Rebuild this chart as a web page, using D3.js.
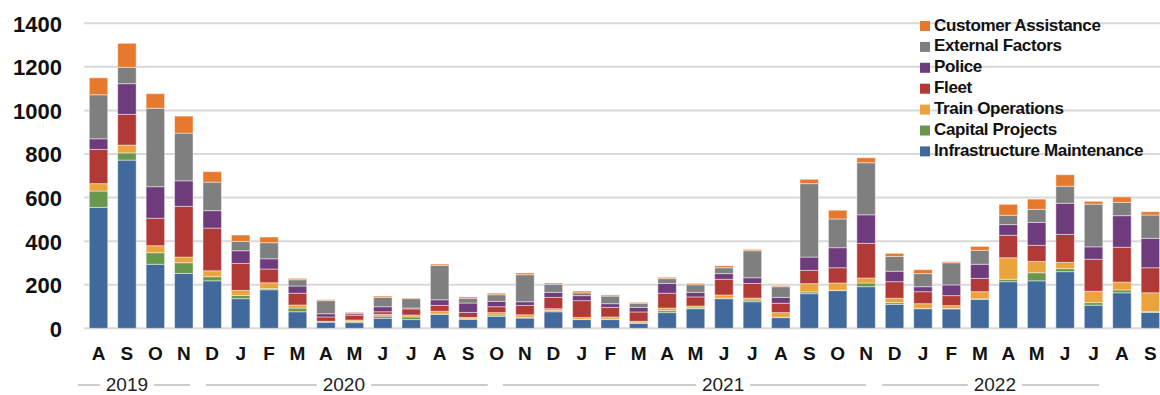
<!DOCTYPE html>
<html>
<head>
<meta charset="utf-8">
<script src="https://cdn.jsdelivr.net/npm/d3@7"></script>
<style>
  html, body { margin: 0; padding: 0; background: #fff; }
  svg { display: block; }
</style>
</head>
<body>
<svg id="chart" width="1160" height="395"></svg>
<script>
// Monthly delay minutes by cause, Aug 2019 – Sep 2022
const months = ["A","S","O","N","D",
  "J","F","M","A","M","J","J","A","S","O","N","D",
  "J","F","M","A","M","J","J","A","S","O","N","D",
  "J","F","M","A","M","J","J","A","S"];

const infrastructureMaintenance = [555,772,294,252,218, 136,177,76,28,26,46,40,64,41,55,47,76, 40,40,23,72,90,136,122,49,159,173,191,110, 90,89,133,214,218,260,106,163,73];
const capitalProjects           = [75,33,53,49,19, 15,5,17,2,5,10,12,2,3,6,3,5, 2,2,2,9,3,2,8,2,8,2,17,8, 2,2,2,11,37,14,12,13,3];
const trainOperations           = [34,36,32,26,27, 23,27,14,2,7,8,9,12,6,11,12,9, 8,10,7,12,9,15,9,21,38,33,23,20, 21,13,33,99,52,29,52,36,87];
const fleet                     = [157,141,126,233,196, 124,63,54,20,22,12,28,27,23,27,43,52, 77,44,43,68,42,72,67,43,61,70,159,76, 55,46,61,103,74,128,147,160,115];
const police                    = [49,141,145,117,80, 58,47,33,15,7,23,4,26,43,25,17,23, 23,17,21,45,21,26,26,27,61,92,131,48, 23,49,65,49,105,143,57,145,135];
const externalFactors           = [202,75,360,219,131, 43,74,29,60,5,43,43,158,22,30,124,37, 13,35,19,22,35,27,124,49,337,132,239,68, 60,102,64,43,60,78,196,61,107];
const customerAssistance        = [78,110,67,78,48, 29,26,6,4,3,6,3,6,6,7,8,6, 8,5,4,6,6,9,6,5,20,40,23,14, 18,5,18,50,47,53,13,25,15];

const seriesNames  = ["Infrastructure Maintenance","Capital Projects","Train Operations","Fleet","Police","External Factors","Customer Assistance"];
const seriesValues = [infrastructureMaintenance, capitalProjects, trainOperations, fleet, police, externalFactors, customerAssistance];
const seriesColors = ["#41699c","#68984b","#eba33e","#b13a36","#6e3b7c","#7f7f7f","#e57a2e"];

const yTicks = [0,200,400,600,800,1000,1200,1400];
const years = ["2019","2020","2021","2022"];

// Year bracket extents, in units of month steps from the start of the band range
const yearSpans = [[-0.22, 3.72], [4.28, 14.19], [14.72, 27.5], [28.07, 35.7]];
const yearTextCenters = [1.5, 9.13, 22.47, 32.03];

const svg = d3.select("#chart");
const plot = { left: 84.3, right: 1164.6, top: 23.3, bottom: 328.3 };

const x = d3.scaleBand()
  .domain(d3.range(months.length))
  .range([plot.left, plot.right])
  .paddingInner(0.35)
  .paddingOuter(0.175);

const y = d3.scaleLinear().domain([0, 1400]).range([plot.bottom, plot.top]);

// Gridlines
svg.append("g")
  .selectAll("line")
  .data(yTicks)
  .join("line")
  .attr("x1", plot.left)
  .attr("x2", 1160)
  .attr("y1", d => y(d))
  .attr("y2", d => y(d))
  .attr("stroke", "#d9d9d9")
  .attr("stroke-width", 2);

// Y axis labels
const yAxis = d3.axisLeft(y).tickValues(yTicks).tickFormat(d3.format("d")).tickSize(0).tickPadding(0);
const yg = svg.append("g").attr("transform", "translate(62,0)").call(yAxis);
yg.select(".domain").remove();
yg.selectAll("text")
  .attr("font-family", "'Liberation Sans', Arial, sans-serif")
  .attr("font-weight", "bold")
  .attr("font-size", 22)
  .attr("fill", "#111")
  .attr("dy", "0.36em");

// Stacked bars
const table = months.map((m, i) => {
  const row = { i };
  seriesNames.forEach((s, k) => row[s] = seriesValues[k][i]);
  return row;
});
const stacked = d3.stack().keys(seriesNames)(table);

svg.append("g")
  .selectAll("g")
  .data(stacked)
  .join("g")
  .attr("fill", (d, k) => seriesColors[k])
  .selectAll("rect")
  .data(d => d)
  .join("rect")
  .attr("x", d => x(d.data.i))
  .attr("width", x.bandwidth())
  .attr("y", d => y(d[1]))
  .attr("height", d => y(d[0]) - y(d[1]))
  .attr("stroke", "rgba(255,255,255,0.45)")
  .attr("stroke-width", 1);

// Month labels
const xAxis = d3.axisBottom(x).tickFormat(i => months[i]).tickSize(0).tickPadding(0);
const xg = svg.append("g").attr("transform", "translate(0,346)").call(xAxis);
xg.select(".domain").remove();
xg.selectAll("text")
  .attr("font-family", "'Liberation Sans', Arial, sans-serif")
  .attr("font-weight", "bold")
  .attr("font-size", 19)
  .attr("fill", "#111")
  .attr("dy", "0.71em");

// Year brackets
const step = x.step();
const pos = u => plot.left + u * step;
const yearG = svg.append("g");
years.forEach((yr, k) => {
  const cx = pos(yearTextCenters[k]);
  const t = yearG.append("text")
    .attr("x", cx)
    .attr("y", 391)
    .attr("text-anchor", "middle")
    .attr("font-family", "'Liberation Sans', Arial, sans-serif")
    .attr("font-size", 19)
    .attr("fill", "#222")
    .text(yr);
  const w = t.node().getComputedTextLength();
  const gap = 6;
  yearG.append("line")
    .attr("x1", pos(yearSpans[k][0])).attr("x2", cx - w / 2 - gap)
    .attr("y1", 385).attr("y2", 385)
    .attr("stroke", "#9a9a9a").attr("stroke-width", 1);
  yearG.append("line")
    .attr("x1", cx + w / 2 + gap).attr("x2", pos(yearSpans[k][1]))
    .attr("y1", 385).attr("y2", 385)
    .attr("stroke", "#9a9a9a").attr("stroke-width", 1);
});

// Legend (top entry is the top of the stack)
const legendItems = seriesNames.map((s, k) => ({ name: s, color: seriesColors[k] })).reverse();
const legend = svg.append("g").attr("transform", "translate(920,21)");
const li = legend.selectAll("g")
  .data(legendItems)
  .join("g")
  .attr("transform", (d, k) => `translate(0,${k * 20.9})`);
li.append("rect")
  .attr("width", 10).attr("height", 10)
  .attr("fill", d => d.color);
li.append("text")
  .attr("x", 14)
  .attr("y", 9.5)
  .attr("font-family", "'Liberation Sans', Arial, sans-serif")
  .attr("font-weight", "bold")
  .attr("font-size", 17)
  .attr("letter-spacing", "-0.35px")
  .attr("fill", "#111")
  .text(d => d.name);
</script>
</body>
</html>
